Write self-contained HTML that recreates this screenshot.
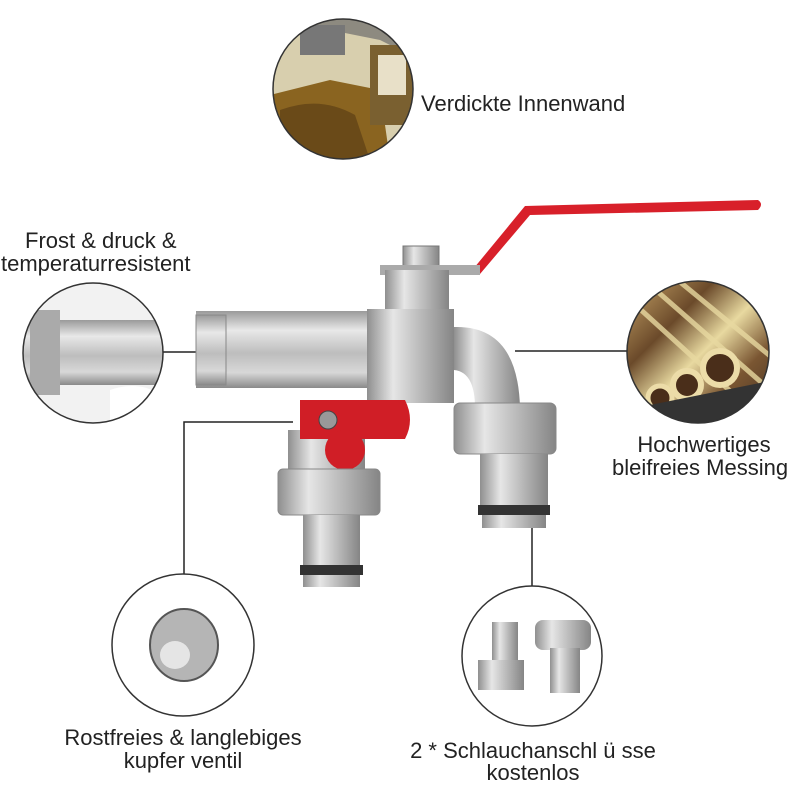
<!DOCTYPE html>
<html><head><meta charset="utf-8"><style>
html,body{margin:0;padding:0;background:#fff;}
svg{display:block;}
text{font-family:"Liberation Sans",sans-serif;fill:#222;}
</style></head><body>
<svg width="800" height="800" viewBox="0 0 800 800" xmlns="http://www.w3.org/2000/svg">
<defs>
<linearGradient id="sil" x1="0" y1="0" x2="0" y2="1">
<stop offset="0" stop-color="#9a9a9a"/><stop offset="0.25" stop-color="#e8e8e8"/><stop offset="0.55" stop-color="#bdbdbd"/><stop offset="0.8" stop-color="#d8d8d8"/><stop offset="1" stop-color="#8a8a8a"/></linearGradient>
<linearGradient id="silh" x1="0" y1="0" x2="1" y2="0">
<stop offset="0" stop-color="#8f8f8f"/><stop offset="0.3" stop-color="#e6e6e6"/><stop offset="0.6" stop-color="#bcbcbc"/><stop offset="1" stop-color="#858585"/></linearGradient>
<linearGradient id="brass" x1="0" y1="0" x2="1" y2="1">
<stop offset="0" stop-color="#c9a76a"/><stop offset="0.3" stop-color="#6b4a2a"/><stop offset="0.5" stop-color="#e8d9a0"/><stop offset="0.7" stop-color="#7a5632"/><stop offset="1" stop-color="#3a2a1e"/></linearGradient>
<clipPath id="ct"><circle cx="343" cy="89" r="70"/></clipPath>
<clipPath id="cl"><circle cx="93" cy="353" r="70"/></clipPath>
<clipPath id="cr"><circle cx="698" cy="352" r="71"/></clipPath>
</defs>

<!-- connector lines -->
<g stroke="#222" stroke-width="1.5" fill="none">
<line x1="163" y1="352" x2="197" y2="352"/>
<line x1="515" y1="351" x2="628" y2="351"/>
<polyline points="293,422 184,422 184,574"/>
<line x1="532" y1="528" x2="532" y2="587"/>
</g>

<!-- top circle -->
<g clip-path="url(#ct)">
<rect x="270" y="18" width="150" height="145" fill="#d8cfae"/>
<path d="M270 18 L420 18 L420 60 L380 40 L330 30 L270 40Z" fill="#8d8a80"/>
<rect x="300" y="25" width="45" height="30" fill="#777"/>
<path d="M270 95 L330 80 L380 90 L390 160 L270 160Z" fill="#8a6420"/>
<path d="M280 110 Q320 95 355 115 L370 160 L280 160Z" fill="#6a4a18"/>
<rect x="370" y="45" width="45" height="80" fill="#7a6030"/>
<rect x="378" y="55" width="28" height="40" fill="#e8e0c8"/>
</g>
<circle cx="343" cy="89" r="70" fill="none" stroke="#333" stroke-width="1.5"/>
<text x="421" y="111" font-size="22">Verdickte Innenwand</text>

<!-- left circle -->
<g clip-path="url(#cl)">
<rect x="20" y="280" width="150" height="150" fill="#f2f2f2"/>
<rect x="20" y="320" width="150" height="65" fill="url(#sil)"/>
<rect x="30" y="310" width="30" height="85" fill="#aaa"/>
<path d="M110 390 Q140 380 160 395 L160 430 L110 430Z" fill="#fff"/>
</g>
<circle cx="93" cy="353" r="70" fill="none" stroke="#333" stroke-width="1.5"/>
<text x="25" y="248" font-size="22">Frost &amp; druck &amp;</text>
<text x="1" y="271" font-size="22">temperaturresistent</text>

<!-- right circle -->
<g clip-path="url(#cr)">
<rect x="625" y="280" width="150" height="150" fill="url(#brass)"/>
<g stroke="#e8d9a0" stroke-width="5" opacity="0.8">
<line x1="630" y1="300" x2="740" y2="400"/><line x1="650" y1="285" x2="770" y2="390"/><line x1="680" y1="282" x2="775" y2="360"/></g>
<circle cx="720" cy="368" r="17" fill="#4a2e1a" stroke="#ecdca8" stroke-width="6"/>
<circle cx="687" cy="385" r="14" fill="#4a2e1a" stroke="#ecdca8" stroke-width="6"/>
<circle cx="660" cy="398" r="12" fill="#4a2e1a" stroke="#ecdca8" stroke-width="5"/>
<path d="M625 410 L775 380 L775 430 L625 430Z" fill="#333"/>
</g>
<circle cx="698" cy="352" r="71" fill="none" stroke="#333" stroke-width="1.5"/>
<text x="704" y="452" font-size="22" text-anchor="middle">Hochwertiges</text>
<text x="612" y="475" font-size="22">bleifreies Messing</text>

<!-- faucet -->
<path d="M474 268 L525 206 L758 200 Q764 204 758 210 L530 215 L480 274Z" fill="#d8202a"/>
<rect x="403" y="246" width="36" height="24" fill="url(#silh)" stroke="#777"/>
<rect x="380" y="265" width="100" height="10" fill="#aaa"/>
<rect x="385" y="270" width="64" height="42" fill="url(#silh)"/>
<rect x="196" y="311" width="176" height="77" fill="url(#sil)"/>
<rect x="196" y="315" width="30" height="70" fill="url(#sil)" stroke="#888"/>
<rect x="367" y="309" width="87" height="94" fill="url(#silh)"/>
<path d="M454 327 Q518 325 520 408 L475 408 Q475 372 454 370Z" fill="url(#silh)"/>
<rect x="454" y="403" width="102" height="51" rx="6" fill="url(#silh)" stroke="#888"/>
<rect x="480" y="454" width="68" height="60" fill="url(#silh)"/>
<rect x="478" y="505" width="72" height="10" fill="#333"/>
<rect x="482" y="515" width="64" height="13" fill="url(#silh)"/>
<rect x="288" y="430" width="77" height="42" fill="url(#silh)"/>
<path d="M300 400 L405 400 Q415 420 405 439 L300 439 Z" fill="#d01e26"/>
<circle cx="345" cy="450" r="20" fill="#d01e26"/>
<circle cx="328" cy="420" r="9" fill="#999" stroke="#444"/>
<rect x="278" y="469" width="102" height="46" rx="5" fill="url(#silh)" stroke="#888"/>
<rect x="303" y="515" width="57" height="50" fill="url(#silh)"/>
<rect x="300" y="565" width="63" height="10" fill="#333"/>
<rect x="303" y="575" width="57" height="12" fill="url(#silh)"/>

<!-- bottom-left circle -->
<circle cx="183" cy="645" r="71" fill="#fff" stroke="#333" stroke-width="1.5"/>
<ellipse cx="184" cy="645" rx="34" ry="36" fill="#b5b5b5" stroke="#555" stroke-width="2"/>
<ellipse cx="175" cy="655" rx="15" ry="14" fill="#e5e5e5"/>
<text x="183" y="745" font-size="22" text-anchor="middle">Rostfreies &amp; langlebiges</text>
<text x="183" y="768" font-size="22" text-anchor="middle">kupfer ventil</text>

<!-- bottom-right circle -->
<circle cx="532" cy="656" r="70" fill="#fff" stroke="#333" stroke-width="1.5"/>
<rect x="492" y="622" width="26" height="40" fill="url(#silh)"/>
<rect x="478" y="660" width="46" height="30" fill="url(#silh)"/>
<rect x="535" y="620" width="56" height="30" rx="8" fill="url(#silh)"/>
<rect x="550" y="648" width="30" height="45" fill="url(#silh)"/>
<text x="533" y="758" font-size="22" text-anchor="middle">2 * Schlauchanschl ü sse</text>
<text x="533" y="780" font-size="22" text-anchor="middle">kostenlos</text>
</svg>
</body></html>
